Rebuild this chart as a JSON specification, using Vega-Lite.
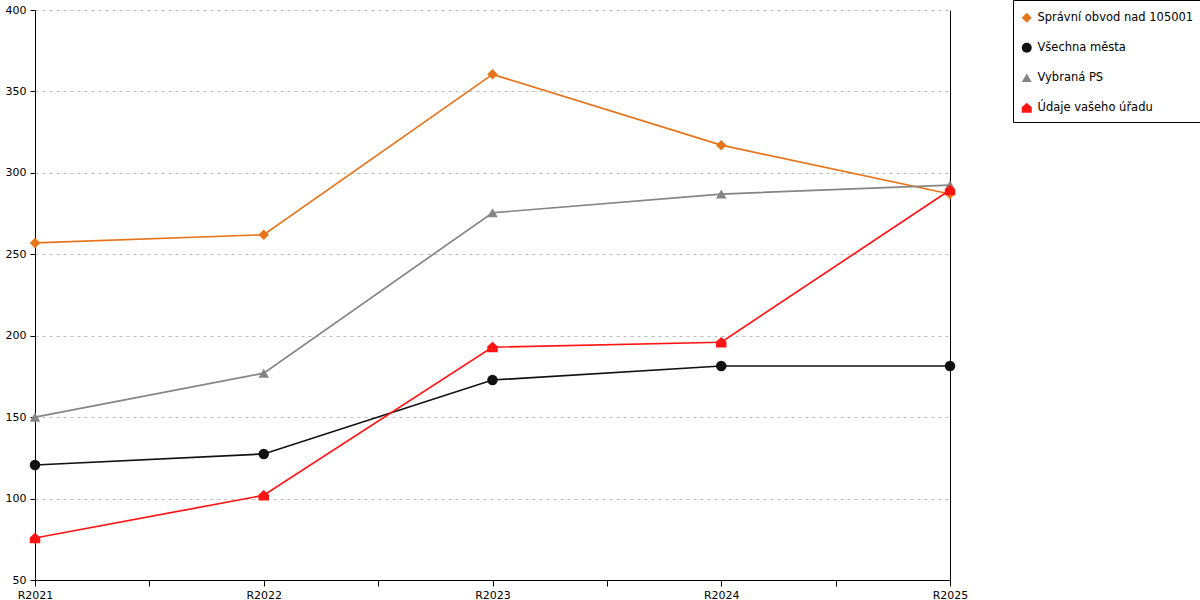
{
  "$schema": "https://vega.github.io/schema/vega-lite/v6.json",
  "width": 915,
  "height": 570,
  "autosize": {"type": "none"},
  "padding": {"left": 35, "top": 10, "right": 250, "bottom": 20},
  "background": "white",
  "config": {
    "font": "DejaVu Sans",
    "view": {"stroke": null},
    "axis": {"labelFont": "DejaVu Sans", "labelFontSize": 11, "labelColor": "#000", "domainColor": "#000", "tickColor": "#000"}
  },
  "data": {
    "values": [
      {"rok": 2021, "rada": "Správní obvod nad 105001", "hodnota": 257},
      {"rok": 2022, "rada": "Správní obvod nad 105001", "hodnota": 262},
      {"rok": 2023, "rada": "Správní obvod nad 105001", "hodnota": 360.5},
      {"rok": 2024, "rada": "Správní obvod nad 105001", "hodnota": 317},
      {"rok": 2025, "rada": "Správní obvod nad 105001", "hodnota": 287},
      {"rok": 2021, "rada": "Všechna města", "hodnota": 120.6},
      {"rok": 2022, "rada": "Všechna města", "hodnota": 127.4},
      {"rok": 2023, "rada": "Všechna města", "hodnota": 172.8},
      {"rok": 2024, "rada": "Všechna města", "hodnota": 181.4},
      {"rok": 2025, "rada": "Všechna města", "hodnota": 181.4},
      {"rok": 2021, "rada": "Vybraná PS", "hodnota": 150},
      {"rok": 2022, "rada": "Vybraná PS", "hodnota": 177},
      {"rok": 2023, "rada": "Vybraná PS", "hodnota": 275.5},
      {"rok": 2024, "rada": "Vybraná PS", "hodnota": 287},
      {"rok": 2025, "rada": "Vybraná PS", "hodnota": 292.5},
      {"rok": 2021, "rada": "Údaje vašeho úřadu", "hodnota": 75.8},
      {"rok": 2022, "rada": "Údaje vašeho úřadu", "hodnota": 102},
      {"rok": 2023, "rada": "Údaje vašeho úřadu", "hodnota": 193},
      {"rok": 2024, "rada": "Údaje vašeho úřadu", "hodnota": 196},
      {"rok": 2025, "rada": "Údaje vašeho úřadu", "hodnota": 289.5}
    ]
  },
  "encoding": {
    "x": {
      "field": "rok",
      "type": "quantitative",
      "scale": {"domain": [2021, 2025], "nice": false, "zero": false},
      "axis": {
        "title": null,
        "values": [2021, 2021.5, 2022, 2022.5, 2023, 2023.5, 2024, 2024.5, 2025],
        "labelExpr": "datum.value % 1 == 0 ? 'R' + datum.value : ''",
        "grid": false,
        "tickSize": 6,
        "labelPadding": 3,
        "labelFlush": false
      }
    },
    "y": {
      "field": "hodnota",
      "type": "quantitative",
      "scale": {"domain": [50, 400], "nice": false, "zero": false}
    },
    "color": {
      "field": "rada",
      "type": "nominal",
      "sort": ["Správní obvod nad 105001", "Všechna města", "Vybraná PS", "Údaje vašeho úřadu"],
      "scale": {
        "domain": ["Správní obvod nad 105001", "Všechna města", "Vybraná PS", "Údaje vašeho úřadu"],
        "range": ["#E8741A", "#111111", "#858585", "#FF1414"]
      },
      "legend": {
        "title": " ",
        "titleFontSize": 2,
        "titlePadding": 2,
        "orient": "none",
        "legendX": 978,
        "legendY": -10,
        "direction": "vertical",
        "strokeColor": "#000",
        "fillColor": "white",
        "padding": 8,
        "rowPadding": 17,
        "labelFontSize": 11.5,
        "labelFont": "DejaVu Sans",
        "labelColor": "#000",
        "labelLimit": 300,
        "symbolSize": 100,
        "symbolOffset": 0,
        "labelOffset": 5,
        "symbolStrokeWidth": 0
      }
    }
  },
  "layer": [
    {
      "mark": {"type": "line", "strokeWidth": 1.7},
      "encoding": {
        "y": {
          "field": "hodnota",
          "type": "quantitative",
          "axis": {
            "title": null,
            "values": [50, 100, 150, 200, 250, 300, 350, 400],
            "grid": true,
            "gridColor": "#bbbbbb",
            "gridDash": [3, 4],
            "tickSize": 5,
            "labelPadding": 4
          }
        },
        "detail": {"field": "rada"}
      }
    },
    {
      "mark": {"type": "point", "filled": true, "opacity": 1, "size": 110},
      "encoding": {
        "y": {
          "field": "hodnota",
          "type": "quantitative",
          "axis": {"orient": "right", "title": null, "labels": false, "ticks": false, "grid": false, "domain": true}
        },
        "shape": {
          "field": "rada",
          "type": "nominal",
          "sort": ["Správní obvod nad 105001", "Všechna města", "Vybraná PS", "Údaje vašeho úřadu"],
          "scale": {
            "domain": ["Správní obvod nad 105001", "Všechna města", "Vybraná PS", "Údaje vašeho úřadu"],
            "range": ["diamond", "circle", "triangle-up", "M-1,1L1,1L1,-0.1L0,-1L-1,-0.1Z"]
          }
        }
      }
    }
  ],
  "resolve": {"axis": {"y": "independent"}}
}
